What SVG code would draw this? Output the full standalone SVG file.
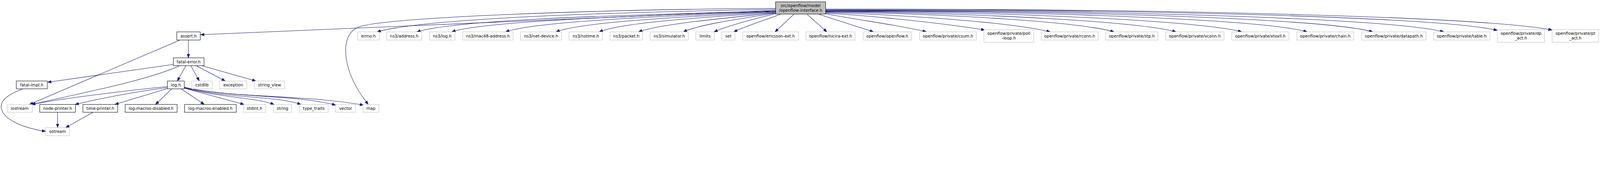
<svg xmlns="http://www.w3.org/2000/svg" width="5114" height="440" viewBox="0 0 5114 440">
<style>
svg{width:100vw;height:8.6038vw}
.bg{fill:#ffffff}
.n rect{fill:#ffffff;stroke:#000000;stroke-width:1.3}
.g rect{fill:#ffffff;stroke:#bfbfbf;stroke-width:1.3}
.r rect{fill:#bfbfbf;stroke:#000000;stroke-width:1.3}
text{font-family:"DejaVu Sans","Liberation Sans",sans-serif;font-size:13px;fill:#000000;text-anchor:middle}
#edges path{fill:none;stroke:#191970;stroke-width:1.3;marker-end:url(#arr)}
</style>
<defs>
<marker id="arr" viewBox="0 0 12 9" refX="12" refY="4.5" markerWidth="12" markerHeight="9" markerUnits="userSpaceOnUse" orient="auto">
<path d="M0,0 L12,4.5 L0,9 Z" fill="#191970" stroke="#191970" stroke-width="1"/>
</marker>
</defs>
<rect class="bg" x="0" y="0" width="5114" height="440"/>

<g id="edges">
<!-- root to left -->
<path d="M2479,27 C1900,30 1250,55 1150,85 C1105,100 1100,150 1108,195 C1118,250 1150,300 1177,334"/>
<path d="M2479,33 L641,111"/>
<path d="M2479,30 C1900,40 1350,60 1205,102"/>
<path d="M2479,35 C1900,50 1450,65 1332,102"/>
<path d="M2479,36 C2000,50 1530,70 1444,102"/>
<path d="M2479,37 C2100,52 1700,70 1616,102"/>
<path d="M2479,38 C2150,55 1850,72 1777,102"/>
<path d="M2479,40 C2200,58 1980,75 1915,102"/>
<path d="M2479,41 C2300,60 2100,78 2041,102"/>
<path d="M2479,42 C2350,62 2230,80 2184,102"/>
<path d="M2479,44 C2400,62 2320,85 2282,102"/>
<path d="M2494,46 C2440,66 2380,85 2345,102"/>
<path d="M2537,46 L2477,102"/>
<path d="M2580,46 L2643,102"/>
<path d="M2618,46 L2792,102"/>
<!-- root to right -->
<path d="M2639,44 C2750,65 2900,85 2961,102"/>
<path d="M2639,42 C2850,55 3050,80 3148,96"/>
<path d="M2639,40 C2950,50 3250,75 3357,102"/>
<path d="M2639,38 C3050,45 3450,70 3561,102"/>
<path d="M2639,37 C3150,42 3650,70 3759,102"/>
<path d="M2639,36 C3250,38 3850,68 3969,102"/>
<path d="M2639,35 C3400,36 4050,65 4178,102"/>
<path d="M2639,34 C3500,34 4250,62 4388,102"/>
<path d="M2639,33 C3600,32 4450,60 4615,102"/>
<path d="M2639,31 C3700,30 4600,55 4786,97"/>
<path d="M2639,29 C3800,28 4750,55 4961,96"/>
<!-- assert.h -->
<path d="M602,128 L602,185"/>
<path d="M575,128 L94,334"/>
<!-- fatal-error.h -->
<path d="M554,206 L152,263"/>
<path d="M574,210 C480,255 250,300 101,334"/>
<path d="M594,210 L567,259"/>
<path d="M610,210 L637,259"/>
<path d="M627,210 L720,259"/>
<path d="M645,210 L818,259"/>
<!-- fatal-impl.h -->
<path d="M73,284 C30,300 0,320 4,345 C10,385 80,410 146,420"/>
<!-- printers -->
<path d="M184,359 L184,408"/>
<path d="M297,359 L210,408"/>
<!-- log.h -->
<path d="M535,277 C400,290 200,315 101,334"/>
<path d="M535,280 C420,295 320,315 240,334"/>
<path d="M535,283 L367,334"/>
<path d="M549,284 L497,334"/>
<path d="M579,284 L653,334"/>
<path d="M589,282 L780,334"/>
<path d="M589,281 C700,312 820,312 876,334"/>
<path d="M589,280 C720,315 880,305 962,334"/>
<path d="M589,279 C750,315 930,300 1073,336"/>
<path d="M589,279 C750,315 950,300 1162,336"/>
</g>

<g id="root" class="r"><rect x="2479" y="6" width="160" height="39"/><text x="2559" y="22">src/openflow/model</text><text x="2559" y="37">/openflow-interface.h</text></g>

<g id="assert_h" class="n"><rect x="565" y="102" width="75" height="26"/><text x="602.5" y="119.5">assert.h</text></g>
<g id="errno_h" class="g"><rect x="1143" y="102" width="69" height="26"/><text x="1177.5" y="119.5">errno.h</text></g>
<g id="ns3_address_h" class="g"><rect x="1236" y="102" width="112" height="26"/><text x="1292" y="119.5">ns3/address.h</text></g>
<g id="ns3_log_h" class="g"><rect x="1373" y="102" width="81" height="26"/><text x="1413.5" y="119.5">ns3/log.h</text></g>
<g id="ns3_mac48_address_h" class="g"><rect x="1479" y="102" width="161" height="26"/><text x="1559.5" y="119.5">ns3/mac48-address.h</text></g>
<g id="ns3_net_device_h" class="g"><rect x="1664" y="102" width="131" height="26"/><text x="1729.5" y="119.5">ns3/net-device.h</text></g>
<g id="ns3_nstime_h" class="g"><rect x="1819" y="102" width="107" height="26"/><text x="1872.5" y="119.5">ns3/nstime.h</text></g>
<g id="ns3_packet_h" class="g"><rect x="1950" y="102" width="104" height="26"/><text x="2002" y="119.5">ns3/packet.h</text></g>
<g id="ns3_simulator_h" class="g"><rect x="2078" y="102" width="122" height="26"/><text x="2139" y="119.5">ns3/simulator.h</text></g>
<g id="limits" class="g"><rect x="2224" y="102" width="59" height="26"/><text x="2253.5" y="119.5">limits</text></g>
<g id="set" class="g"><rect x="2307" y="102" width="42" height="26"/><text x="2328" y="119.5">set</text></g>
<g id="ericsson_ext_h" class="g"><rect x="2374" y="102" width="178" height="26"/><text x="2463" y="119.5">openflow/ericsson-ext.h</text></g>
<g id="nicira_ext_h" class="g"><rect x="2576" y="102" width="157" height="26"/><text x="2654.5" y="119.5">openflow/nicira-ext.h</text></g>
<g id="openflow_h" class="g"><rect x="2759" y="102" width="154" height="26"/><text x="2836" y="119.5">openflow/openflow.h</text></g>
<g id="csum_h" class="g"><rect x="2939" y="102" width="182" height="26"/><text x="3030" y="119.5">openflow/private/csum.h</text></g>
<g id="poll_loop_h" class="g"><rect x="3145" y="95" width="159" height="40"/><text x="3224.5" y="111">openflow/private/poll</text><text x="3224.5" y="126">-loop.h</text></g>
<g id="rconn_h" class="g"><rect x="3328" y="102" width="182" height="26"/><text x="3419" y="119.5">openflow/private/rconn.h</text></g>
<g id="stp_h" class="g"><rect x="3534" y="102" width="167" height="26"/><text x="3617.5" y="119.5">openflow/private/stp.h</text></g>
<g id="vconn_h" class="g"><rect x="3726" y="102" width="186" height="26"/><text x="3819" y="119.5">openflow/private/vconn.h</text></g>
<g id="xtoxll_h" class="g"><rect x="3937" y="102" width="183" height="26"/><text x="4028.5" y="119.5">openflow/private/xtoxll.h</text></g>
<g id="chain_h" class="g"><rect x="4145" y="102" width="182" height="26"/><text x="4236" y="119.5">openflow/private/chain.h</text></g>
<g id="datapath_h" class="g"><rect x="4352" y="102" width="206" height="26"/><text x="4455" y="119.5">openflow/private/datapath.h</text></g>
<g id="table_h" class="g"><rect x="4582" y="102" width="180" height="26"/><text x="4672" y="119.5">openflow/private/table.h</text></g>
<g id="dp_act_h" class="g"><rect x="4786" y="95" width="151" height="40"/><text x="4861.5" y="111">openflow/private/dp</text><text x="4861.5" y="126">_act.h</text></g>
<g id="pt_act_h" class="g"><rect x="4961" y="95" width="149" height="40"/><text x="5035.5" y="111">openflow/private/pt</text><text x="5035.5" y="126">_act.h</text></g>

<g id="fatal_error_h" class="n"><rect x="554" y="185" width="98" height="25"/><text x="603" y="202">fatal-error.h</text></g>

<g id="fatal_impl_h" class="n"><rect x="52" y="259" width="99" height="25"/><text x="101.5" y="276">fatal-impl.h</text></g>
<g id="log_h" class="n"><rect x="535" y="259" width="54" height="25"/><text x="562" y="276">log.h</text></g>
<g id="cstdlib" class="g"><rect x="613" y="259" width="65" height="25"/><text x="645.5" y="276">cstdlib</text></g>
<g id="exception" class="g"><rect x="702" y="259" width="87" height="25"/><text x="745.5" y="276">exception</text></g>
<g id="string_view" class="g"><rect x="813" y="259" width="97" height="25"/><text x="861.5" y="276">string_view</text></g>

<g id="iostream" class="g"><rect x="23" y="334" width="80" height="25"/><text x="63" y="351">iostream</text></g>
<g id="node_printer_h" class="n"><rect x="127" y="334" width="114" height="25"/><text x="184" y="351">node-printer.h</text></g>
<g id="time_printer_h" class="n"><rect x="265" y="334" width="111" height="25"/><text x="320.5" y="351">time-printer.h</text></g>
<g id="log_macros_disabled_h" class="n"><rect x="400" y="334" width="166" height="25"/><text x="483" y="351">log-macros-disabled.h</text></g>
<g id="log_macros_enabled_h" class="n"><rect x="590" y="334" width="165" height="25"/><text x="672.5" y="351">log-macros-enabled.h</text></g>
<g id="stdint_h" class="g"><rect x="778" y="334" width="71" height="25"/><text x="813.5" y="351">stdint.h</text></g>
<g id="string" class="g"><rect x="874" y="334" width="58" height="25"/><text x="903" y="351">string</text></g>
<g id="type_traits" class="g"><rect x="957" y="334" width="92" height="25"/><text x="1003" y="351">type_traits</text></g>
<g id="vector" class="g"><rect x="1073" y="334" width="63" height="25"/><text x="1104.5" y="351">vector</text></g>
<g id="map" class="g"><rect x="1160" y="334" width="51" height="25"/><text x="1185.5" y="351">map</text></g>

<g id="ostream" class="g"><rect x="146" y="408" width="76" height="26"/><text x="184" y="425.5">ostream</text></g>
</svg>
